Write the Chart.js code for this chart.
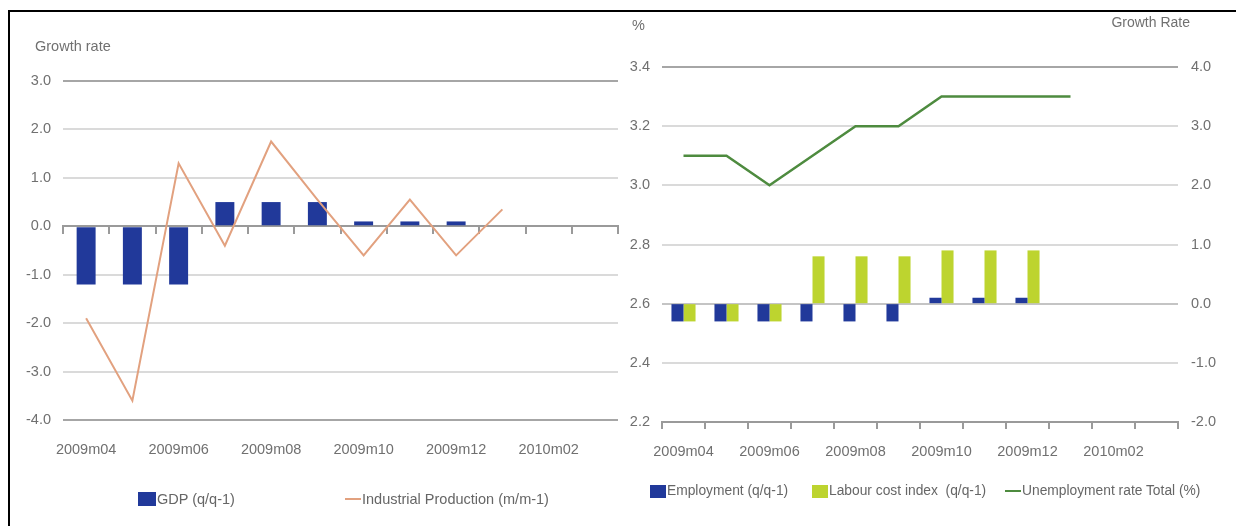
<!DOCTYPE html>
<html>
<head>
<meta charset="utf-8">
<script src="https://cdn.jsdelivr.net/npm/chart.js@4.4.1/dist/chart.umd.min.js"></script>
<style>
  body { margin: 0; background: #fff; width: 1236px; height: 526px; overflow: hidden; position: relative;
         font-family: 'Liberation Sans', Arial, sans-serif; color: #707070; }
  .frame { position: absolute; left: 8px; top: 10px; right: 0; bottom: 0;
           border-top: 2px solid #000; border-left: 2px solid #000; pointer-events: none; }
  canvas { position: absolute; top: 0; }
  #leftChart { left: 0; }
  #rightChart { left: 625px; }
  .txt { position: absolute; font-size: 14.5px; line-height: 18px; white-space: nowrap; transform: translateY(-50%); }
  .legend-item { position: absolute; display: flex; align-items: center; font-size: 14.5px; line-height: 18px;
                 white-space: pre; color: #666; transform: translateY(-50%); }
  #rightLegend .legend-item { font-size: 13.8px; }
  .swatch { display: inline-block; margin-right: 1px; }
</style>
</head>
<body>
<canvas id="leftChart" width="625" height="526"></canvas>
<canvas id="rightChart" width="611" height="526"></canvas>
<div class="txt" style="left:35px; top:46px;">Growth rate</div>
<div class="txt" style="left:632px; top:25px;">%</div>
<div class="txt" style="right:46px; top:22px; font-size:14px;">Growth Rate</div>
<div id="leftLegend"></div>
<div id="rightLegend"></div>
<div class="frame"></div>

<script>
const months = ['2009m04', '2009m05', '2009m06', '2009m07', '2009m08', '2009m09',
                '2009m10', '2009m11', '2009m12', '2010m01', '2010m02', '2010m03'];

// left panel
const gdp = [-1.2, -1.2, -1.2, 0.5, 0.5, 0.5, 0.1, 0.1, 0.1, null, null, null];
const industrialProduction = [-1.9, -3.6, 1.3, -0.4, 1.75, 0.55, -0.6, 0.55, -0.6, 0.35, null, null];
const growthTicks = [-4, -3, -2, -1, 0, 1, 2, 3];

// right panel
const employment = [-0.3, -0.3, -0.3, -0.3, -0.3, -0.3, 0.1, 0.1, 0.1, null, null, null];
const labourCost = [-0.3, -0.3, -0.3, 0.8, 0.8, 0.8, 0.9, 0.9, 0.9, null, null, null];
const unemployment = [3.1, 3.1, 3.0, 3.1, 3.2, 3.2, 3.3, 3.3, 3.3, 3.3, null, null];
const percentTicks = [2.2, 2.4, 2.6, 2.8, 3.0, 3.2, 3.4];
const rateTicks = [-2, -1, 0, 1, 2, 3, 4];

Chart.defaults.font.family = "'Liberation Sans', Arial, sans-serif";
Chart.defaults.font.size = 14.5;
Chart.defaults.color = '#707070';

const BLUE = '#21399a';
const gridDark = '#a6a6a6';
const gridLight = '#dadada';

const oneDecimal = v => Number(v).toFixed(1);
const everyOther = function (value, index) {
    return index % 2 === 0 ? this.getLabelForValue(value) : '';
};
const fixedTicks = list => scale => { scale.ticks = list.map(v => ({ value: v })); };

// builds a small html legend from the chart's datasets
function buildLegend(chart, holder, spots, box) {
    chart.data.datasets.forEach((ds, i) => {
        const item = document.createElement('div');
        item.className = 'legend-item';
        item.style.left = spots[i][0] + 'px';
        item.style.top = spots[i][1] + 'px';
        const sw = document.createElement('span');
        sw.className = 'swatch';
        if (ds.type === 'line') {
            sw.style.width = '16px';
            sw.style.height = '2px';
            sw.style.background = ds.borderColor;
        } else {
            sw.style.width = box[0] + 'px';
            sw.style.height = box[1] + 'px';
            sw.style.background = ds.backgroundColor;
        }
        item.appendChild(sw);
        item.appendChild(document.createTextNode(ds.label));
        holder.appendChild(item);
    });
}

const leftChart = new Chart(document.getElementById('leftChart'), {
    data: {
        labels: months,
        datasets: [
            {
                type: 'bar',
                label: 'GDP (q/q-1)',
                data: gdp,
                backgroundColor: BLUE,
                barPercentage: 0.41,
                categoryPercentage: 1,
                order: 1
            },
            {
                type: 'line',
                label: 'Industrial Production (m/m-1)',
                data: industrialProduction,
                borderColor: '#e2a17f',
                borderWidth: 2,
                pointRadius: 0,
                tension: 0,
                order: 0
            }
        ]
    },
    options: {
        responsive: false,
        animation: false,
        layout: { padding: { top: 81, left: 0, right: 7, bottom: 0 } },
        plugins: { legend: { display: false }, tooltip: { enabled: false } },
        scales: {
            x: {
                type: 'category',
                position: 'bottom',
                offset: true,
                grid: { display: false, drawTicks: false },
                border: { display: false },
                ticks: { autoSkip: false, maxRotation: 0, padding: 21, callback: everyOther },
                afterFit: s => { s.height = 106; }
            },
            // axis line with tick marks crossing at zero
            xZero: {
                type: 'category',
                labels: months,
                position: { y: 0 },
                offset: true,
                grid: { offset: true, drawOnChartArea: false, tickLength: 7, color: '#9a9a9a', lineWidth: 2 },
                border: { color: '#9a9a9a', width: 2 },
                ticks: { display: false, autoSkip: false }
            },
            y: {
                min: -4,
                max: 3,
                afterBuildTicks: fixedTicks(growthTicks),
                border: { display: false },
                grid: {
                    drawTicks: false,
                    lineWidth: 2,
                    color: c => (c.tick.value === 3 || c.tick.value === -4) ? gridDark : gridLight
                },
                ticks: { padding: 12, callback: oneDecimal },
                afterFit: s => { s.width = 63; }
            }
        }
    }
});

const rightChart = new Chart(document.getElementById('rightChart'), {
    data: {
        labels: months,
        datasets: [
            {
                type: 'bar',
                label: 'Employment (q/q-1)',
                data: employment,
                backgroundColor: BLUE,
                yAxisID: 'y1',
                barPercentage: 1,
                categoryPercentage: 0.56,
                order: 1
            },
            {
                type: 'bar',
                label: 'Labour cost index  (q/q-1)',
                data: labourCost,
                backgroundColor: '#bdd42f',
                yAxisID: 'y1',
                barPercentage: 1,
                categoryPercentage: 0.56,
                order: 1
            },
            {
                type: 'line',
                label: 'Unemployment rate Total (%)',
                data: unemployment,
                borderColor: '#4e8b3f',
                borderWidth: 2.5,
                pointRadius: 0,
                tension: 0,
                yAxisID: 'y',
                order: 0
            }
        ]
    },
    options: {
        responsive: false,
        animation: false,
        layout: { padding: { top: 67, left: 0, right: 0, bottom: 0 } },
        plugins: { legend: { display: false }, tooltip: { enabled: false } },
        scales: {
            x: {
                type: 'category',
                position: 'bottom',
                offset: true,
                grid: { offset: true, drawOnChartArea: false, tickLength: 7, color: '#9a9a9a', lineWidth: 2 },
                border: { color: '#9a9a9a', width: 2 },
                ticks: { autoSkip: false, maxRotation: 0, padding: 14, callback: everyOther },
                afterFit: s => { s.height = 104; }
            },
            y: {
                position: 'left',
                min: 2.2,
                max: 3.4,
                afterBuildTicks: fixedTicks(percentTicks),
                border: { display: false },
                grid: {
                    drawTicks: false,
                    lineWidth: 2,
                    color: c => {
                        const v = c.tick.value;
                        if (Math.abs(v - 3.4) < 1e-6 || Math.abs(v - 2.2) < 1e-6) return gridDark;
                        if (Math.abs(v - 2.6) < 1e-6) return '#c4c4c4';
                        return gridLight;
                    }
                },
                ticks: { padding: 12, callback: oneDecimal },
                afterFit: s => { s.width = 37; }
            },
            y1: {
                position: 'right',
                min: -2,
                max: 4,
                afterBuildTicks: fixedTicks(rateTicks),
                border: { display: false },
                grid: { drawOnChartArea: false, drawTicks: false },
                ticks: { padding: 13, callback: oneDecimal },
                afterFit: s => { s.width = 58; }
            }
        }
    }
});

buildLegend(leftChart, document.getElementById('leftLegend'), [[138, 499], [345, 499]], [18, 14]);
buildLegend(rightChart, document.getElementById('rightLegend'), [[650, 491], [812, 491], [1005, 491]], [16, 13]);
</script>
</body>
</html>
